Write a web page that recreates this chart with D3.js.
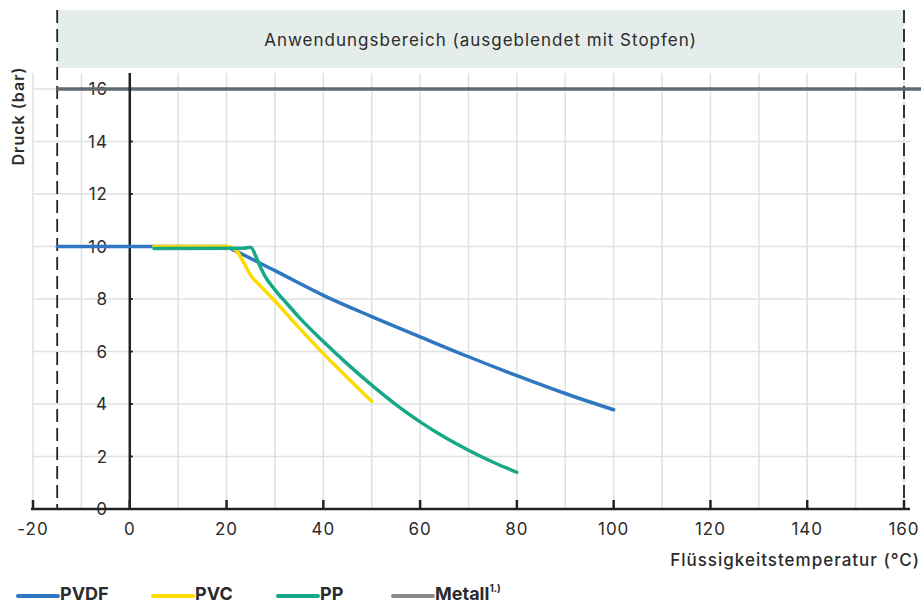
<!DOCTYPE html>
<html>
<head>
<meta charset="utf-8">
<script src="https://cdn.jsdelivr.net/npm/d3@7"></script>
<style>
  body { margin: 0; background: #fff; }
  text { font-family: Inter, "Noto Sans", sans-serif; fill: #2b2b2b; }
</style>
</head>
<body>
<div id="chart"></div>
<script>
var svgWidth = 921;
var svgHeight = 604;

// Data
var pvdfTemp = [-15, 20, 21, 30, 40, 50, 60, 70, 80, 90, 100];
var pvdfDruck = [10, 10, 9.91, 9.08, 8.14, 7.33, 6.56, 5.8, 5.08, 4.4, 3.78];

var pvcTemp = [5, 20, 21, 22, 23.5, 25, 27, 30, 35, 40, 45, 50];
var pvcDruck = [10, 10, 9.97, 9.85, 9.4, 8.9, 8.5, 7.92, 6.9, 5.92, 5.0, 4.1];

var ppTemp = [5, 23.5, 25, 26, 27, 28, 30, 32.5, 35, 40, 45, 50, 55, 60, 65, 70, 75, 80];
var ppDruck = [9.92, 9.93, 9.97, 9.65, 9.22, 8.85, 8.35, 7.82, 7.3, 6.38, 5.52, 4.72, 3.98, 3.32, 2.74, 2.24, 1.79, 1.4];

var metallTemp = [-15, 164];
var metallDruck = [16, 16];

var xTicks = [-20, 0, 20, 40, 60, 80, 100, 120, 140, 160];
var yTicks = [0, 2, 4, 6, 8, 10, 12, 14, 16];
var xGrid = d3.range(-20, 161, 10);
var rangeLimits = [-15, 160];

var series = [
  { name: "PVDF", temp: pvdfTemp, druck: pvdfDruck, color: "#2f78c1" },
  { name: "PVC", temp: pvcTemp, druck: pvcDruck, color: "#fedb00" },
  { name: "PP", temp: ppTemp, druck: ppDruck, color: "#16a887" }
];

var svg = d3.select("#chart")
  .append("svg")
  .attr("width", svgWidth)
  .attr("height", svgHeight);

var x = d3.scaleLinear().domain([-20, 160]).range([33, 904]);
var y = d3.scaleLinear().domain([0, 16]).range([509, 89]);

// Band on top
svg.append("rect")
  .attr("x", x(rangeLimits[0]))
  .attr("y", 10)
  .attr("width", x(rangeLimits[1]) - x(rangeLimits[0]))
  .attr("height", 58)
  .attr("fill", "#e4edea");

svg.append("text")
  .attr("x", (x(rangeLimits[0]) + x(rangeLimits[1])) / 2)
  .attr("y", 46)
  .attr("text-anchor", "middle")
  .attr("font-size", 17)
  .attr("letter-spacing", 1)
  .text("Anwendungsbereich (ausgeblendet mit Stopfen)");

// grid
svg.append("g").selectAll("line")
  .data(xGrid)
  .enter()
  .append("line")
  .attr("x1", d => x(d)).attr("x2", d => x(d))
  .attr("y1", 73).attr("y2", 509)
  .attr("stroke", "#dee1e1")
  .attr("stroke-width", 1.5);

svg.append("g").selectAll("line")
  .data(yTicks)
  .enter()
  .append("line")
  .attr("x1", 33).attr("x2", 910)
  .attr("y1", d => y(d)).attr("y2", d => y(d))
  .attr("stroke", "#dee1e1")
  .attr("stroke-width", 1.5);

// y tick labels
svg.append("g").selectAll("text")
  .data(yTicks)
  .enter()
  .append("text")
  .attr("x", 108)
  .attr("y", d => y(d) + 6)
  .attr("text-anchor", "end")
  .attr("font-size", 17)
  .attr("letter-spacing", 1)
  .text(d => d);

// small y ticks
svg.append("g").selectAll("line")
  .data(yTicks.slice(1))
  .enter()
  .append("line")
  .attr("x1", x(0)).attr("x2", x(0) + 3)
  .attr("y1", d => y(d)).attr("y2", d => y(d))
  .attr("stroke", "#222")
  .attr("stroke-width", 2);

// dashed range limits
svg.append("g").selectAll("line")
  .data(rangeLimits)
  .enter()
  .append("line")
  .attr("x1", d => x(d)).attr("x2", d => x(d))
  .attr("y1", 10).attr("y2", 509)
  .attr("stroke", "#222")
  .attr("stroke-width", 1.8)
  .attr("stroke-dasharray", "13,6");

var line = d3.line()
  .x(d => x(d[0]))
  .y(d => y(d[1]))
  .curve(d3.curveMonotoneX);

// metall line
svg.append("path")
  .datum(d3.zip(metallTemp, metallDruck))
  .attr("d", line)
  .attr("fill", "none")
  .attr("stroke", "#5e6b73")
  .attr("stroke-width", 3.5);

// y axis line
svg.append("line")
  .attr("x1", x(0)).attr("x2", x(0))
  .attr("y1", 73).attr("y2", 509)
  .attr("stroke", "#222")
  .attr("stroke-width", 2.5);

// x axis
svg.append("line")
  .attr("x1", 31).attr("x2", 910)
  .attr("y1", 509).attr("y2", 509)
  .attr("stroke", "#222")
  .attr("stroke-width", 2.5);

svg.append("g").selectAll("line")
  .data(xTicks)
  .enter()
  .append("line")
  .attr("x1", d => x(d)).attr("x2", d => x(d))
  .attr("y1", 500).attr("y2", 509)
  .attr("stroke", "#222")
  .attr("stroke-width", 2.5);

svg.append("g").selectAll("text")
  .data(xTicks)
  .enter()
  .append("text")
  .attr("x", d => x(d))
  .attr("y", 535)
  .attr("text-anchor", "middle")
  .attr("font-size", 17)
  .attr("letter-spacing", 1)
  .text(d => d);

// series
series.forEach(function (s) {
  svg.append("path")
    .datum(d3.zip(s.temp, s.druck))
    .attr("d", line)
    .attr("fill", "none")
    .attr("stroke", s.color)
    .attr("stroke-width", 3.5)
    .attr("stroke-linecap", "round");
});

// axis titles
svg.append("text")
  .attr("transform", "translate(24, 116) rotate(-90)")
  .attr("text-anchor", "middle")
  .attr("font-size", 16)
  .attr("font-weight", 600)
  .attr("letter-spacing", 1)
  .text("Druck (bar)");

svg.append("text")
  .attr("x", 920)
  .attr("y", 566)
  .attr("text-anchor", "end")
  .attr("font-size", 17)
  .attr("font-weight", 500)
  .attr("letter-spacing", 1)
  .text("Flüssigkeitstemperatur (°C)");

// legend
var legendItems = [
  { name: "PVDF", color: "#2f78c1", x: 18 },
  { name: "PVC", color: "#fedb00", x: 153 },
  { name: "PP", color: "#16a887", x: 278 },
  { name: "Metall", color: "#8a8a8a", x: 393 }
];

var legend = svg.append("g");
legendItems.forEach(function (l) {
  legend.append("line")
    .attr("x1", l.x).attr("x2", l.x + 40)
    .attr("y1", 596).attr("y2", 596)
    .attr("stroke", l.color)
    .attr("stroke-width", 4)
    .attr("stroke-linecap", "round");
  var t = legend.append("text")
    .attr("x", l.x + 42)
    .attr("y", 600)
    .attr("font-size", 18)
    .attr("font-weight", 700)
    .text(l.name);
  if (l.name === "Metall") {
    t.append("tspan")
      .attr("font-size", 10)
      .attr("dy", -8)
      .text("1.)");
  }
});
</script>
</body>
</html>
